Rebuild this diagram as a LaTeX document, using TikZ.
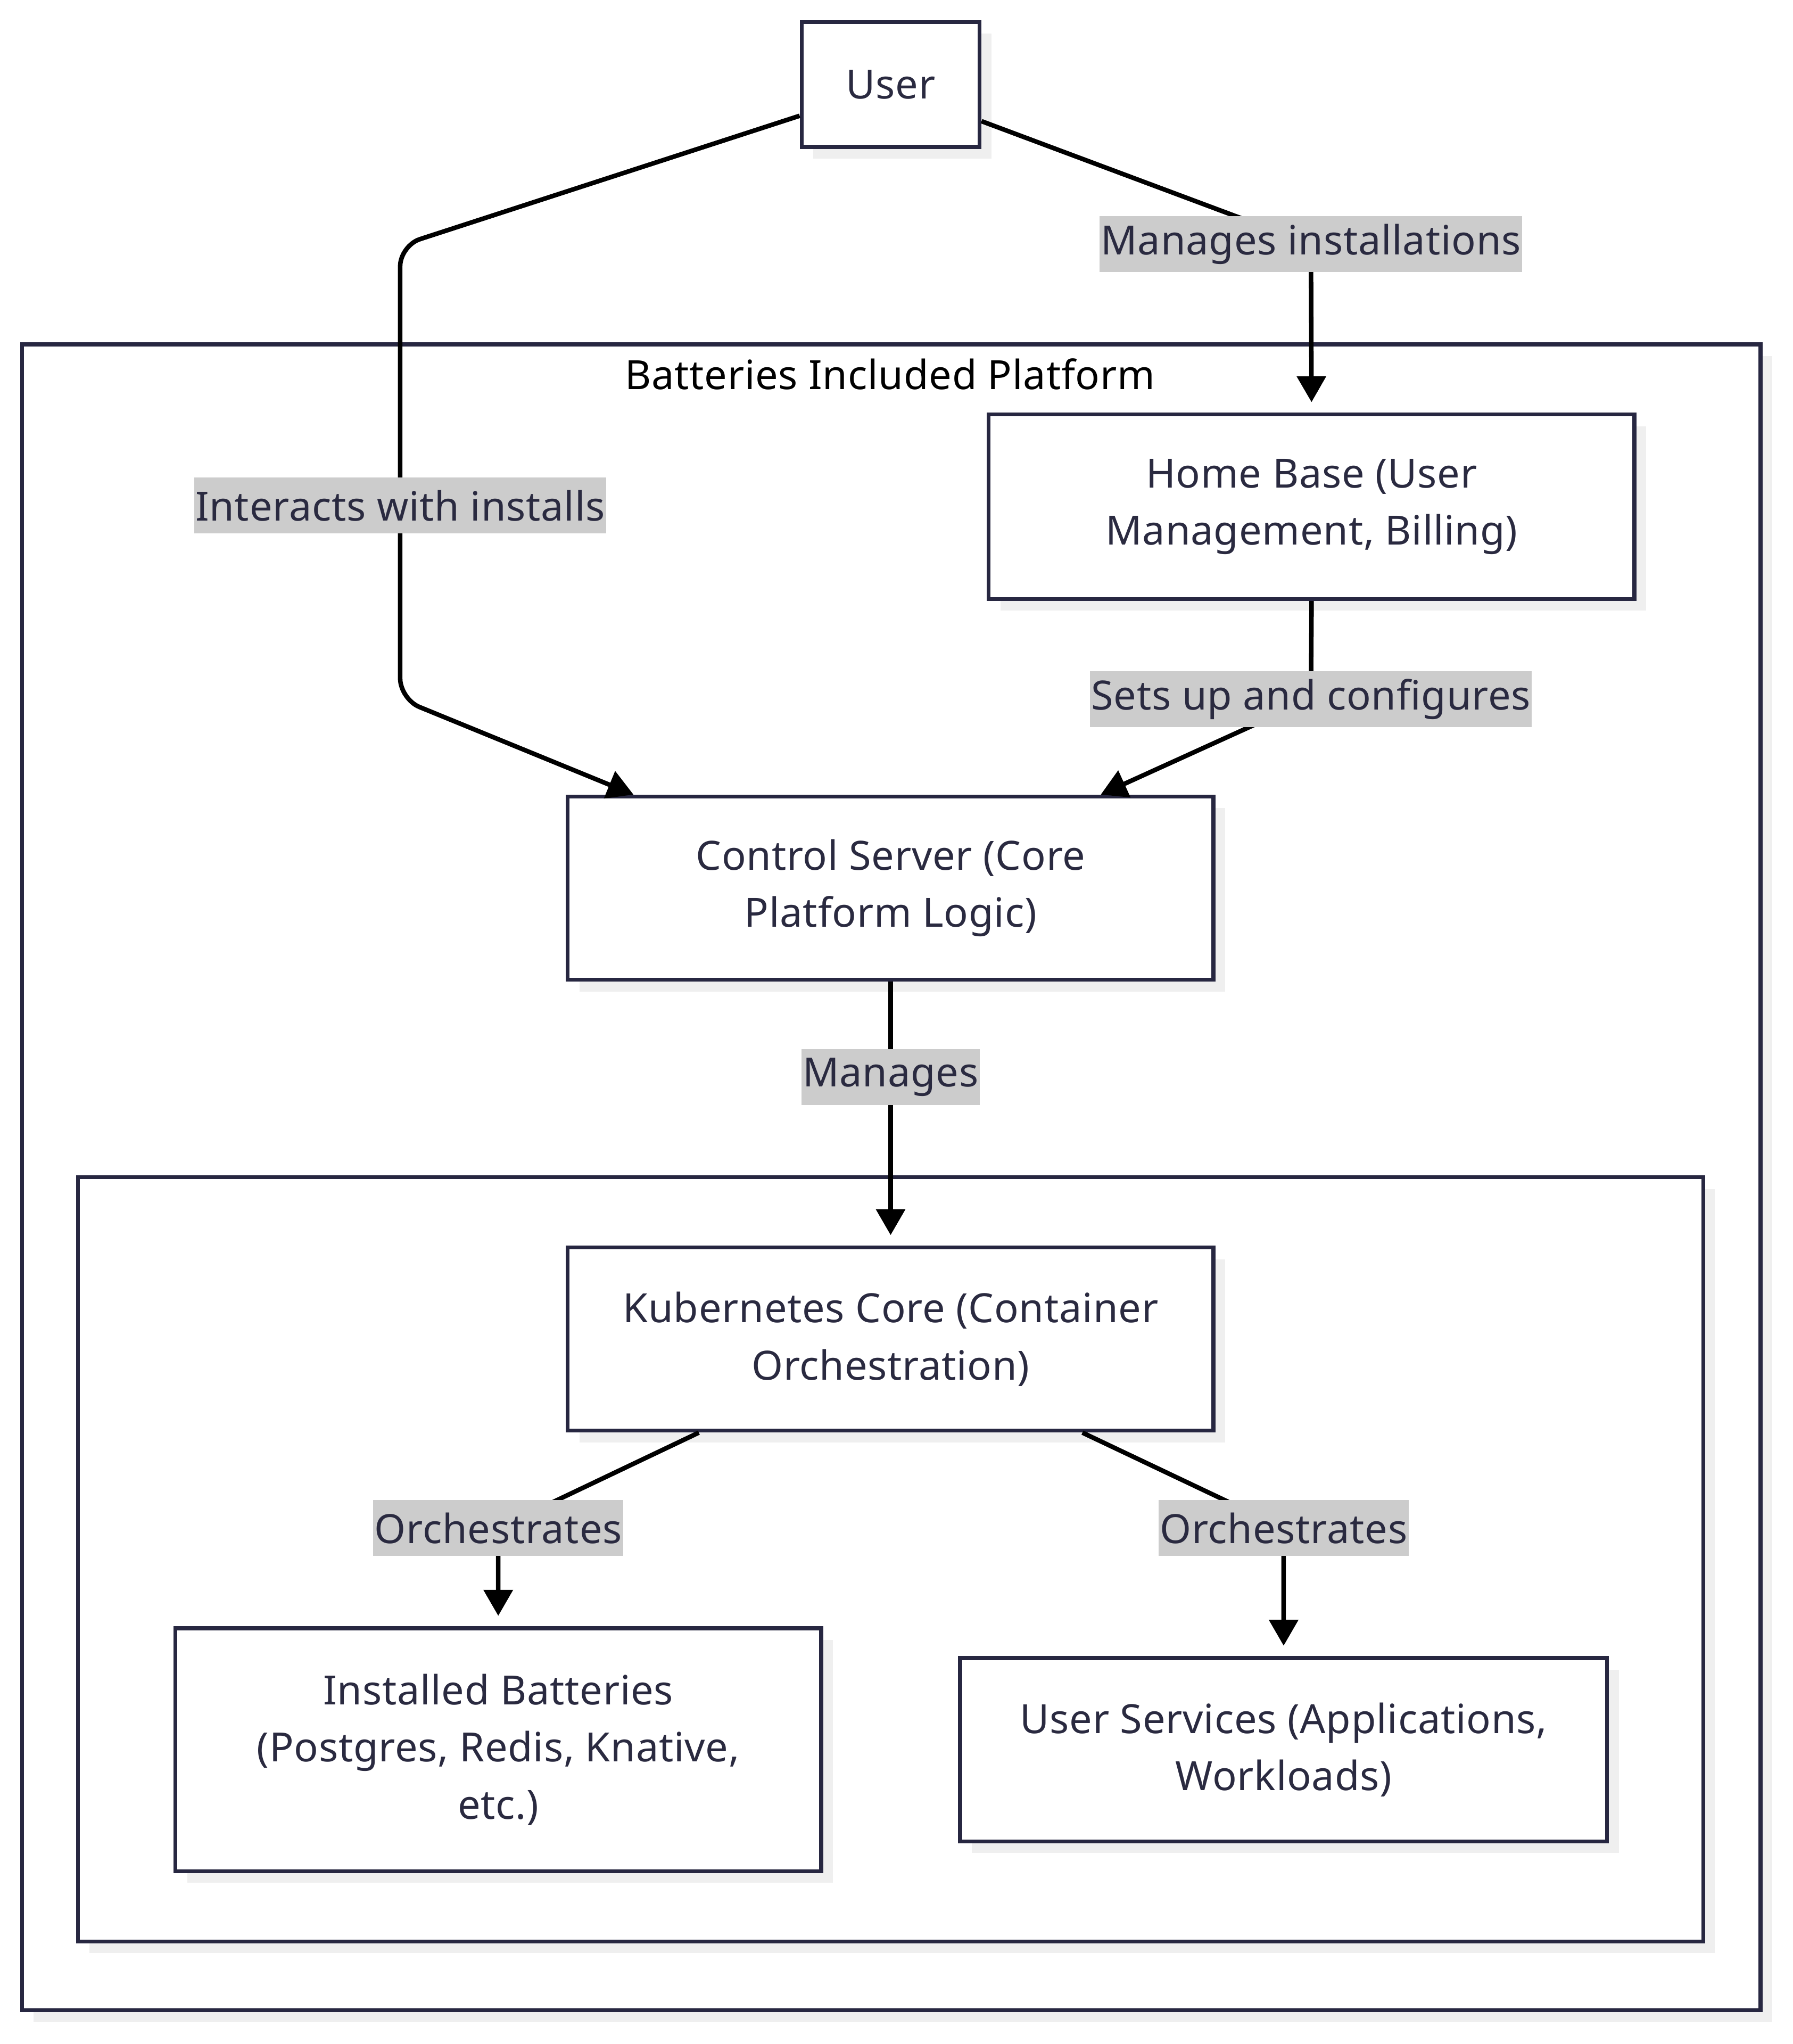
\documentclass[tikz,border=0pt]{standalone}
\usepackage{tikz}
\usepackage{xcolor}
\usepackage{fontspec}
\setmainfont[LetterSpace=1.0]{Noto Sans}
\usetikzlibrary{shadows,arrows.meta}

\definecolor{boxline}{HTML}{272741}
\definecolor{textc}{HTML}{2A2A40}
\definecolor{lblbg}{HTML}{CCCCCC}
\definecolor{shadowc}{HTML}{EFEFEF}

\begin{document}
\begin{tikzpicture}[x=1pt, y=-1pt,
    font=\fontsize{31}{44}\selectfont,
    boxnode/.style={draw=boxline, line width=3pt, fill=white, text=textc, align=center,
      drop shadow={shadow xshift=9pt, shadow yshift=-9pt, fill=shadowc, opacity=1}},
    cluster/.style={draw=boxline, line width=3pt, fill=white,
      drop shadow={shadow xshift=9pt, shadow yshift=-9pt, fill=shadowc, opacity=1}},
    lbl/.style={fill=lblbg, text=textc, inner xsep=1pt, minimum height=43pt},
    link/.style={line width=3.5pt, -{Triangle[length=20pt, width=22pt]}},
    gap/.style={shorten >=8pt}]
  \useasboundingbox (0,0) rectangle (1380,1573);

  % Draw the two clusters
  \draw[cluster] (17,265) rectangle (1355,1547);
  \node[text=black] (platform) at (685,288) {Batteries Included Platform};
  \draw[cluster] (60,906) rectangle (1311,1494);

  % Boxes
  \node[boxnode, minimum width=137pt, minimum height=96pt] (user) at (685.5,65) {User};
  \node[boxnode, minimum width=497pt, minimum height=142pt] (home) at (1009.5,390)
    {Home Base (User\\Management, Billing)};
  \node[boxnode, minimum width=497pt, minimum height=141pt] (ctrl) at (685.5,683.5)
    {Control Server (Core\\Platform Logic)};
  \node[boxnode, minimum width=497pt, minimum height=141pt] (kube) at (685.5,1030.5)
    {Kubernetes Core (Container\\Orchestration)};
  \node[boxnode, minimum width=497pt, minimum height=187pt] (batt) at (383.5,1346.5)
    {Installed Batteries\\(Postgres, Redis, Knative,\\etc.)};
  \node[boxnode, minimum width=498pt, minimum height=141pt] (svc) at (988,1346.5)
    {User Services (Applications,\\Workloads)};

  % Bends of the links
  \coordinate (b1) at (308,189);
  \coordinate (b2) at (308,538);
  \coordinate (b3) at (1009,188);
  \coordinate (b4) at (1009,538);
  \coordinate (b5) at (685.5,829);
  \coordinate (b6) at (383.5,1176);
  \coordinate (b7) at (988,1176);

  % Links
  \draw[link, rounded corners=16pt] (user.199) -- (b1) -- (b2) -- (ctrl.160);
  \draw[link, gap] (user.338) -- (b3) -- (home.north);
  \draw[link] (home.south) -- (b4) -- (ctrl.24);
  \draw[link, gap] (ctrl.south) -- (kube.north);
  \draw[link, gap] (kube.206) -- (b6) -- (batt.north);
  \draw[link, gap] (kube.334) -- (b7) -- (svc.north);

  % Link labels
  \node[lbl] (l1) at (308,389) {Interacts with installs};
  \node[lbl] (l2) at (b3) {Manages installations};
  \node[lbl] (l3) at (b4) {Sets up and configures};
  \node[lbl] (l4) at (b5) {Manages};
  \node[lbl] (l5) at (b6) {Orchestrates};
  \node[lbl] (l6) at (b7) {Orchestrates};
\end{tikzpicture}
\end{document}
